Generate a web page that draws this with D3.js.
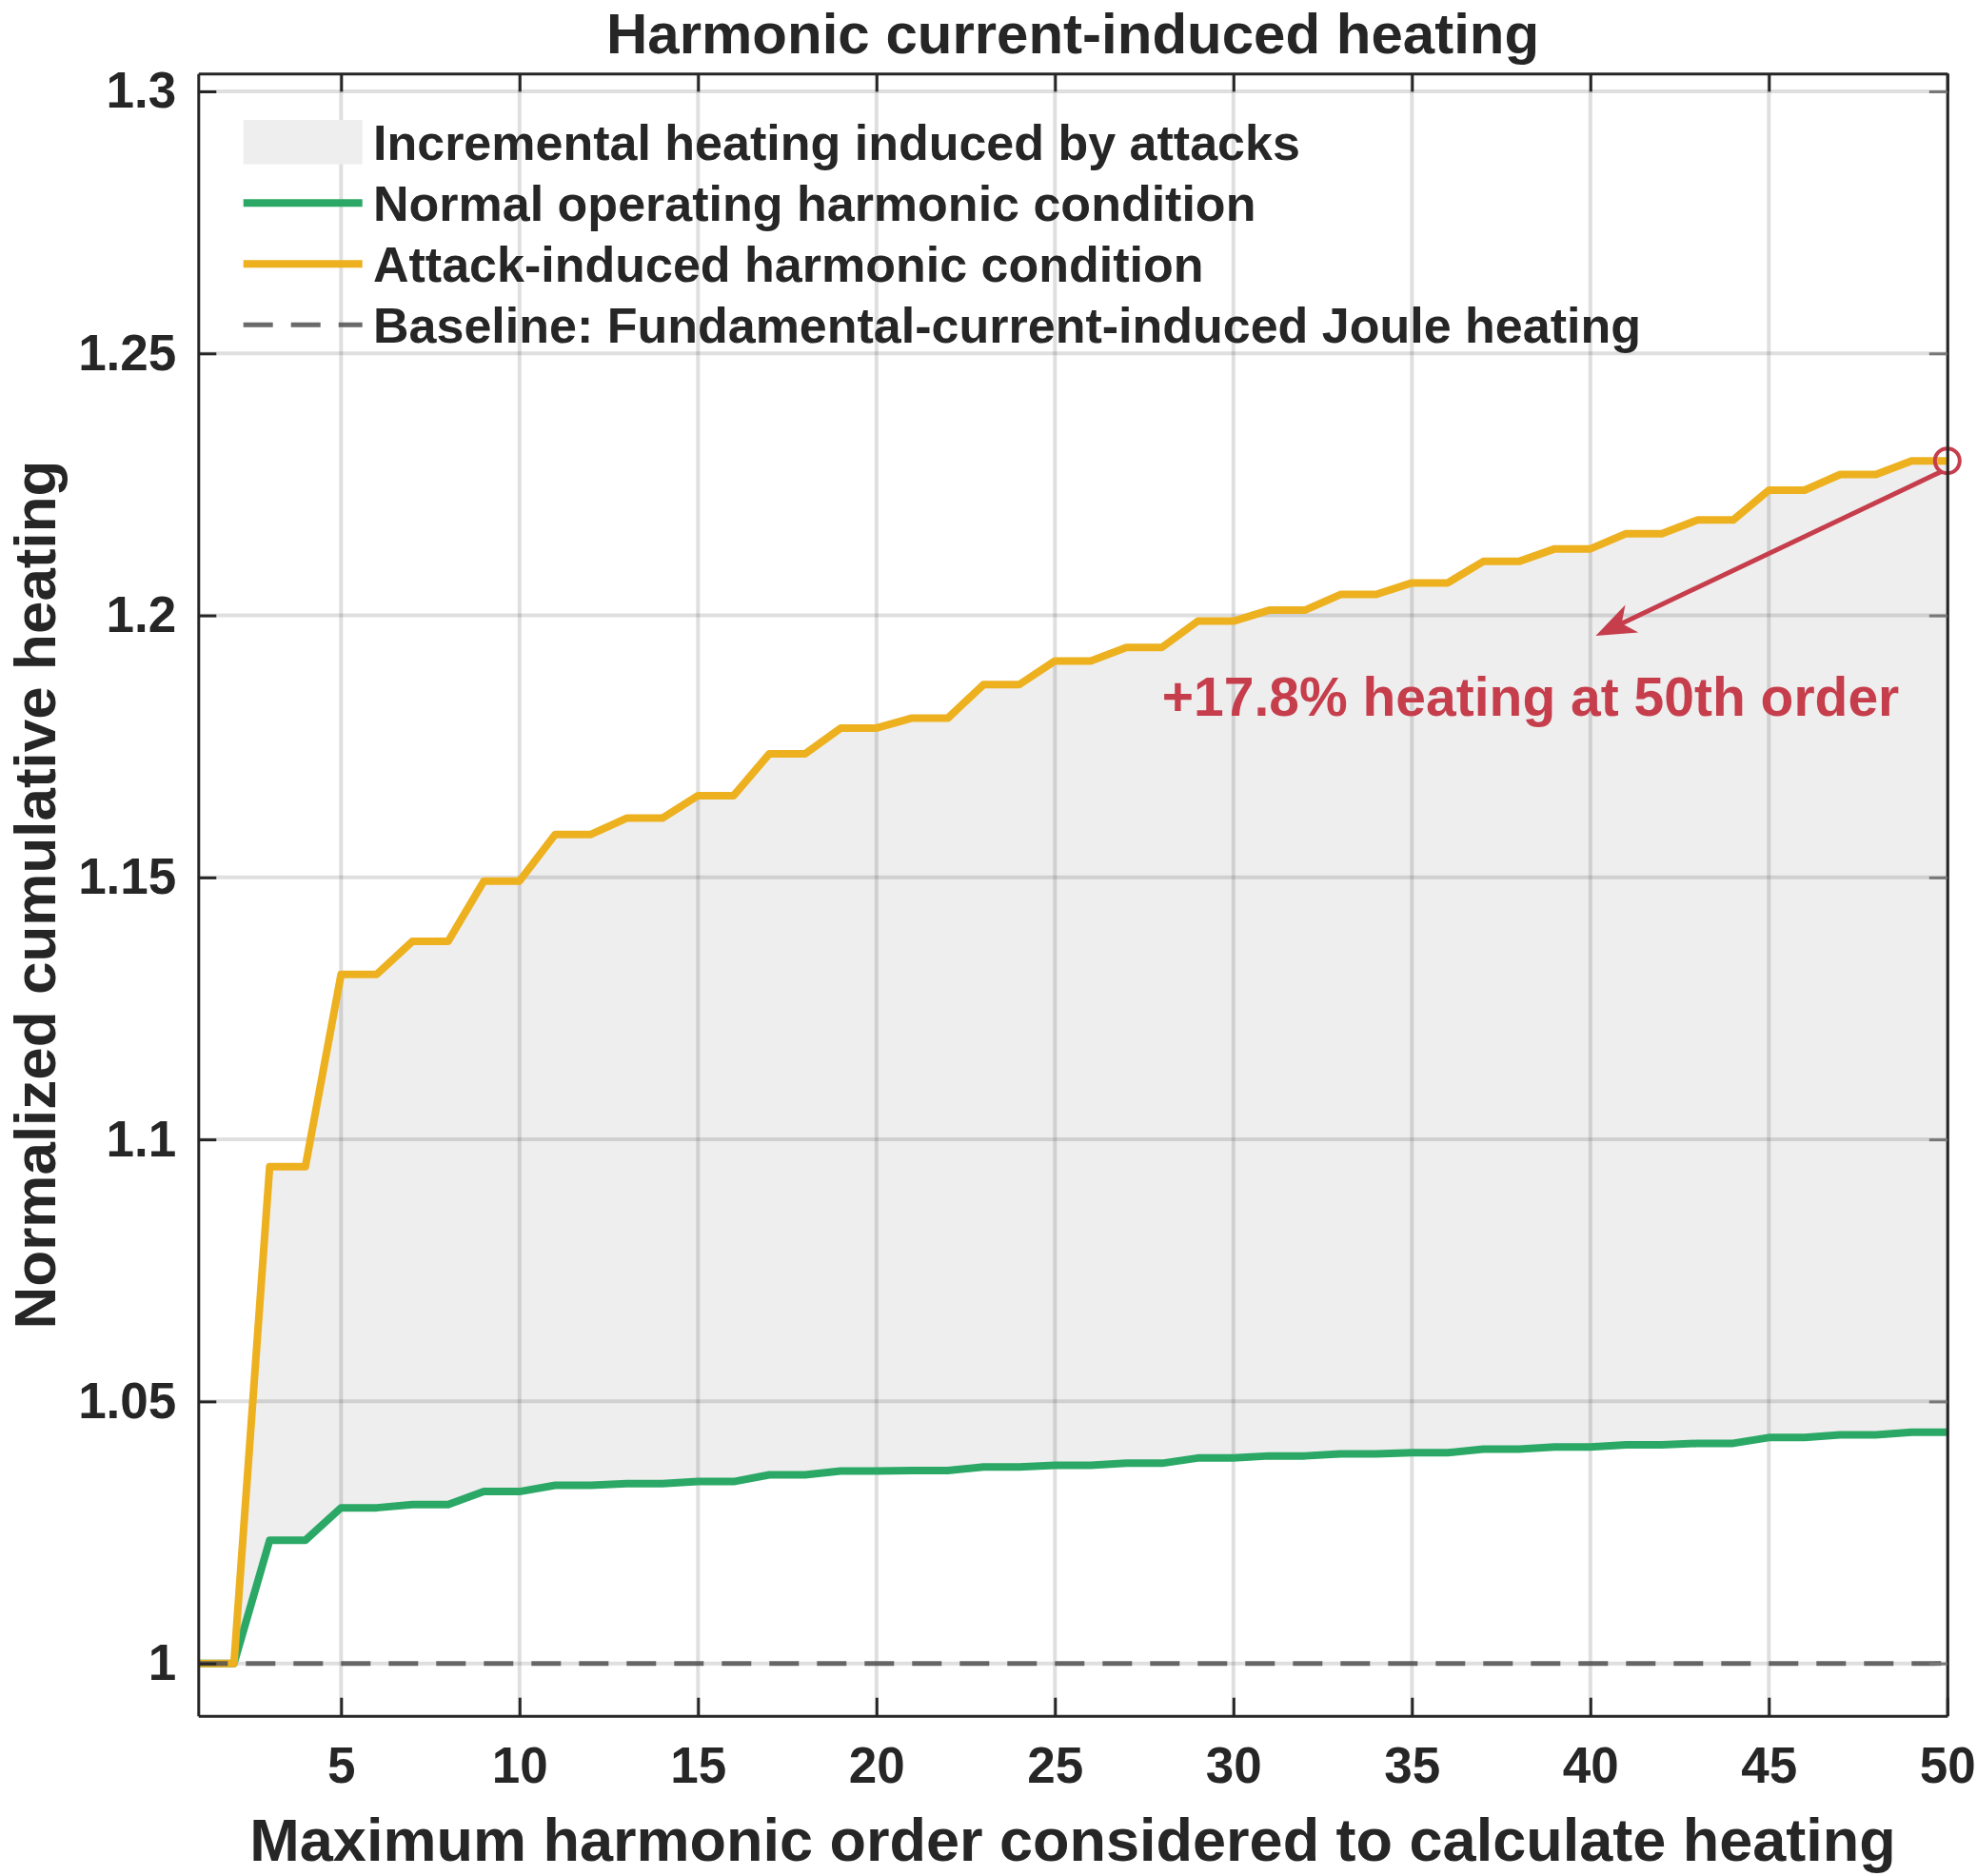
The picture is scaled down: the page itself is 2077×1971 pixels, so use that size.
<!DOCTYPE html>
<html>
<head>
<meta charset="utf-8">
<script src="https://d3js.org/d3.v7.min.js"></script>
<style>
  body { margin: 0; background: #fff; }
  text { font-family: "Liberation Sans", Arial, sans-serif; font-weight: bold; fill: #262626; }
</style>
</head>
<body>
<div id="vis"></div>
<script>
var w = 2077;
var h = 1971;

// harmonic order 1..50
var orders = d3.range(1, 51);

// normalized cumulative heating, normal operation
var normalHeating = [
  1.0, 1.0, 1.0235, 1.0235, 1.0297, 1.0297, 1.0303, 1.0303, 1.0328, 1.0328,
  1.0340, 1.0340, 1.0343, 1.0343, 1.0347, 1.0347, 1.0360, 1.0360, 1.0367, 1.0367,
  1.0368, 1.0368, 1.0375, 1.0375, 1.0378, 1.0378, 1.0382, 1.0382, 1.0392, 1.0392,
  1.0396, 1.0396, 1.0400, 1.0400, 1.0402, 1.0402, 1.0409, 1.0409, 1.0413, 1.0413,
  1.0417, 1.0417, 1.0420, 1.0420, 1.0431, 1.0431, 1.0436, 1.0436, 1.0441, 1.0441
];

// normalized cumulative heating under attack
var attackHeating = [
  1.0, 1.0, 1.0948, 1.0948, 1.1315, 1.1315, 1.1378, 1.1378, 1.1493, 1.1493,
  1.1582, 1.1582, 1.1613, 1.1613, 1.1656, 1.1656, 1.1736, 1.1736, 1.1785, 1.1785,
  1.1804, 1.1804, 1.1868, 1.1868, 1.1913, 1.1913, 1.1939, 1.1939, 1.1989, 1.1989,
  1.2010, 1.2010, 1.2040, 1.2040, 1.2062, 1.2062, 1.2103, 1.2103, 1.2127, 1.2127,
  1.2156, 1.2156, 1.2182, 1.2182, 1.2239, 1.2239, 1.2269, 1.2269, 1.2295, 1.2295
];

var baselineValue = 1;

var xTicks = [5, 10, 15, 20, 25, 30, 35, 40, 45, 50];
var yTicks = [1, 1.05, 1.1, 1.15, 1.2, 1.25, 1.3];
var yTickLabels = ["1", "1.05", "1.1", "1.15", "1.2", "1.25", "1.3"];

var legendLabels = [
  "Incremental heating induced by attacks",
  "Normal operating harmonic condition",
  "Attack-induced harmonic condition",
  "Baseline: Fundamental-current-induced Joule heating"
];

// annotation: arrow from the 50th-order point down to the text
var arrowFrom = [49.85, 1.2275];
var arrowTo = [40.15, 1.1961];
var notePos = [28.0, 1.1809];
var noteText = "+17.8% heating at 50th order";

var green = "#2BA866";
var orange = "#EDB120";
var red = "#C63E4C";
var fillGrey = "#EEEEEE";

var margin = {left: 208.3, right: 31.2, top: 77.3, bottom: 168.3};

var x = d3.scaleLinear()
    .domain([1, 50])
    .range([margin.left, w - margin.right]);

var y = d3.scaleLinear()
    .domain([0.99, 1.3034])
    .range([h - margin.bottom, margin.top]);

var svg = d3.select("#vis").append("svg")
    .attr("width", w)
    .attr("height", h);

var data = orders.map(function(o, i) {
    return {order: o, normal: normalHeating[i], attack: attackHeating[i]};
});

// shaded band between the two curves
var band = d3.area()
    .x(d => x(d.order))
    .y0(d => y(d.normal))
    .y1(d => y(d.attack));

svg.append("path")
    .datum(data)
    .attr("d", band)
    .attr("fill", fillGrey);

// grid
var grid = svg.append("g").attr("stroke", "#262626").attr("stroke-opacity", 0.15).attr("stroke-width", 4);
grid.selectAll(".vg")
    .data(xTicks)
    .enter().append("line")
    .attr("x1", d => x(d)).attr("x2", d => x(d))
    .attr("y1", y.range()[0]).attr("y2", y.range()[1]);
grid.selectAll(".hg")
    .data(yTicks)
    .enter().append("line")
    .attr("y1", d => y(d)).attr("y2", d => y(d))
    .attr("x1", x.range()[0]).attr("x2", x.range()[1]);

// curves
var normalLine = d3.line().x(d => x(d.order)).y(d => y(d.normal));
var attackLine = d3.line().x(d => x(d.order)).y(d => y(d.attack));

svg.append("path")
    .datum(data)
    .attr("d", normalLine)
    .attr("fill", "none")
    .attr("stroke", green)
    .attr("stroke-width", 8)
    .attr("stroke-linejoin", "round");

svg.append("path")
    .datum(data)
    .attr("d", attackLine)
    .attr("fill", "none")
    .attr("stroke", orange)
    .attr("stroke-width", 8)
    .attr("stroke-linejoin", "round");

// baseline
svg.append("line")
    .attr("x1", x(1)).attr("x2", x(50))
    .attr("y1", y(baselineValue)).attr("y2", y(baselineValue))
    .attr("stroke", "#505050")
    .attr("stroke-opacity", 0.85)
    .attr("stroke-width", 5)
    .attr("stroke-dasharray", "31,19");

// annotation
svg.append("circle")
    .attr("cx", x(50))
    .attr("cy", y(attackHeating[49]))
    .attr("r", 13)
    .attr("fill", "none")
    .attr("stroke", red)
    .attr("stroke-width", 4);

var ax0 = x(arrowFrom[0]), ay0 = y(arrowFrom[1]);
var ax1 = x(arrowTo[0]), ay1 = y(arrowTo[1]);
var len = Math.hypot(ax1 - ax0, ay1 - ay0);
var ux = (ax1 - ax0) / len, uy = (ay1 - ay0) / len;
var nx = -uy, ny = ux;
var headL = 42, headW = 16;

svg.append("line")
    .attr("x1", ax0).attr("y1", ay0)
    .attr("x2", ax1 - ux * headL * 0.6).attr("y2", ay1 - uy * headL * 0.6)
    .attr("stroke", red)
    .attr("stroke-width", 5);

svg.append("polygon")
    .attr("points", [
        [ax1, ay1],
        [ax1 - ux * headL + nx * headW, ay1 - uy * headL + ny * headW],
        [ax1 - ux * headL * 0.72, ay1 - uy * headL * 0.72],
        [ax1 - ux * headL - nx * headW, ay1 - uy * headL - ny * headW]
    ].map(p => p.join(",")).join(" "))
    .attr("fill", red);

svg.append("text")
    .attr("x", x(notePos[0]))
    .attr("y", y(notePos[1]))
    .attr("font-size", 57)
    .style("fill", red)
    .text(noteText);

// axes (ticks point inward)
var xAxis = d3.axisBottom(x).tickValues(xTicks).tickSizeInner(-19).tickSizeOuter(0).tickPadding(33);
var yAxis = d3.axisLeft(y).tickValues(yTicks).tickSizeInner(-19).tickSizeOuter(0).tickPadding(23)
    .tickFormat((d, i) => yTickLabels[i]);

var gx = svg.append("g")
    .attr("transform", "translate(0," + y.range()[0] + ")")
    .call(xAxis);
var gy = svg.append("g")
    .attr("transform", "translate(" + x.range()[0] + ",0)")
    .call(yAxis);

var gxTop = svg.append("g")
    .attr("transform", "translate(0," + y.range()[1] + ")")
    .call(d3.axisTop(x).tickValues(xTicks).tickSizeInner(-19).tickSizeOuter(0).tickFormat(""));
var gyRight = svg.append("g")
    .attr("class", "right")
    .attr("transform", "translate(" + x.range()[1] + ",0)")
    .call(d3.axisRight(y).tickValues(yTicks).tickSizeInner(-19).tickSizeOuter(0).tickFormat(""));

[gx, gy, gxTop, gyRight].forEach(function(g) {
    g.select(".domain").attr("stroke", "#262626").attr("stroke-width", 3);
    g.selectAll(".tick line").attr("stroke", "#262626").attr("stroke-width", 3);
    g.selectAll(".tick text").attr("font-size", 53).attr("font-family", null).style("fill", "#262626");
});
gyRight.selectAll(".tick line").attr("stroke", "#777");

// titles
svg.append("text")
    .attr("x", (x.range()[0] + x.range()[1]) / 2)
    .attr("y", 56)
    .attr("text-anchor", "middle")
    .attr("font-size", 60)
    .text("Harmonic current-induced heating");

svg.append("text")
    .attr("x", (x.range()[0] + x.range()[1]) / 2)
    .attr("y", 1955)
    .attr("text-anchor", "middle")
    .attr("font-size", 63)
    .text("Maximum harmonic order considered to calculate heating");

svg.append("text")
    .attr("transform", "translate(58," + (y.range()[0] + y.range()[1]) / 2 + ") rotate(-90)")
    .attr("text-anchor", "middle")
    .attr("font-size", 62)
    .text("Normalized cumulative heating");

// legend
var legend = svg.append("g");
var legX0 = 255.7, legX1 = 380.7, legY = 149.3, legStep = 64;

legend.append("rect")
    .attr("x", legX0).attr("y", legY - 23.3)
    .attr("width", legX1 - legX0).attr("height", 46.6)
    .attr("fill", fillGrey);

var legendStyles = [
    null,
    {color: green, dash: null, width: 8},
    {color: orange, dash: null, width: 8},
    {color: "#505050", dash: "31,19", width: 5}
];

legendStyles.forEach(function(s, i) {
    if (!s) return;
    legend.append("line")
        .attr("x1", legX0).attr("x2", legX1)
        .attr("y1", legY + i * legStep).attr("y2", legY + i * legStep)
        .attr("stroke", s.color)
        .attr("stroke-width", s.width)
        .attr("stroke-opacity", s.dash ? 0.85 : 1)
        .attr("stroke-dasharray", s.dash);
});

legend.selectAll(".lt")
    .data(legendLabels)
    .enter().append("text")
    .attr("x", 392)
    .attr("y", (d, i) => legY + i * legStep)
    .attr("dy", "0.36em")
    .attr("font-size", 52)
    .text(d => d);
</script>
</body>
</html>
